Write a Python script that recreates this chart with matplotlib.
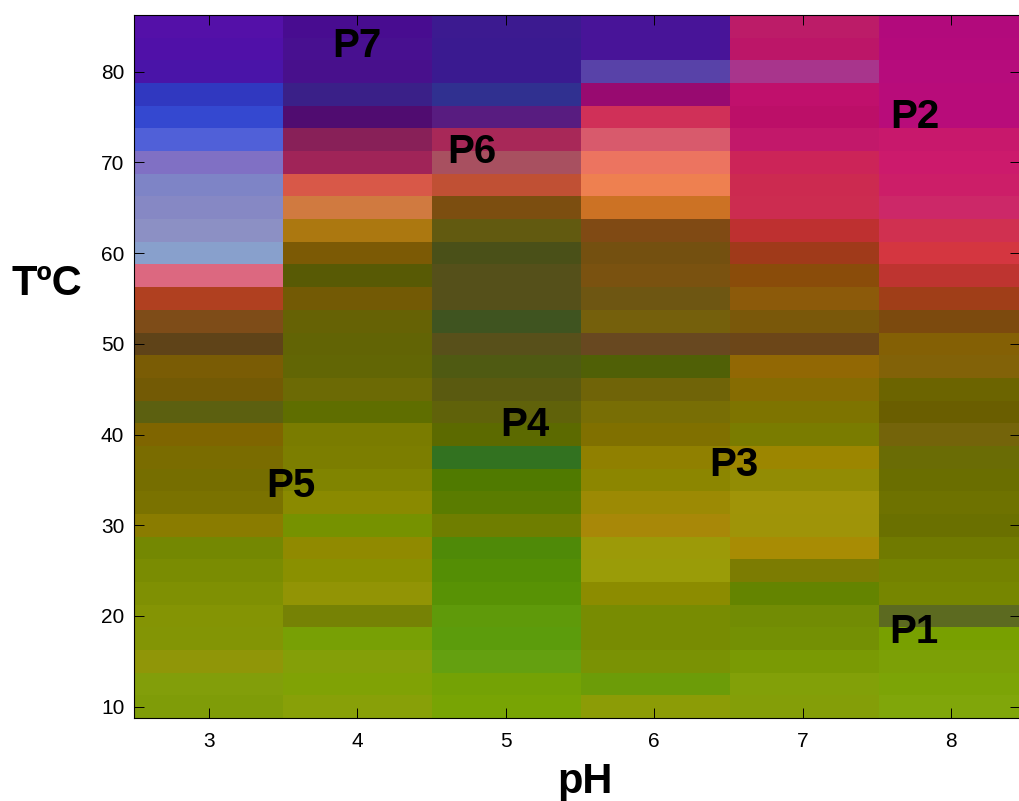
import numpy as np
import matplotlib
matplotlib.use('Agg')
import matplotlib.pyplot as plt
from matplotlib.colors import to_rgb

plt.rcParams['font.family'] = ['Liberation Sans', 'DejaVu Sans']

ph_values = [3, 4, 5, 6, 7, 8]
temps = [10, 12.5, 15, 17.5, 20, 22.5, 25, 27.5, 30, 32.5, 35, 37.5, 40, 42.5, 45, 47.5,
         50, 52.5, 55, 57.5, 60, 62.5, 65, 67.5, 70, 72.5, 75, 77.5, 80, 82.5, 85]

# colour of each cell, from T=10 up to T=85
ph3 = ['#7f9c08', '#829e0a', '#909608', '#839505', '#849404', '#7f9003', '#7a8c02', '#748802',
       '#8a7c00', '#7a7200', '#766e00', '#7a6c00', '#7f6500', '#5c6010', '#735a05', '#7a5c05',
       '#5f4318', '#7e4c18', '#b04020', '#dc6880', '#88a0cc', '#8c90c4', '#8688c4', '#7e84c6',
       '#8070c4', '#5060d8', '#3448d0', '#3038c0', '#4a14a8', '#5010a8', '#5410a8']
ph4 = ['#88a008', '#80a205', '#849f08', '#78a005', '#768205', '#929405', '#8a9000', '#908a00',
       '#769200', '#8a8a00', '#808400', '#7c7e00', '#7a7c00', '#5f6e00', '#6c6a05', '#626605',
       '#626405', '#666205', '#735a05', '#585a05', '#7c5a05', '#ac7810', '#d07a40', '#d85848',
       '#a02458', '#882058', '#500c70', '#3a2088', '#48108c', '#481090', '#480c90']
ph5 = ['#78a404', '#74a205', '#64a010', '#5c9c0c', '#5f9a0a', '#589205', '#548e05', '#4f8a08',
       '#6f7e00', '#5a7c00', '#507a00', '#327220', '#5c6a00', '#60620a', '#5a5a10', '#4f5a12',
       '#58501a', '#3f5420', '#55501a', '#55501a', '#4a5018', '#625a10', '#7c4e10', '#c05034',
       '#a85060', '#a82858', '#581c80', '#303090', '#3a1a90', '#3a1a90', '#3c1a90']
ph6 = ['#8c9c06', '#6c9c08', '#7a9204', '#788c02', '#788c02', '#8c8c00', '#9a9c08', '#9c9a08',
       '#a88808', '#9c8a04', '#8c8600', '#908000', '#807000', '#786e05', '#706408', '#506006',
       '#684820', '#75600c', '#6e5612', '#7a5210', '#745010', '#804a14', '#cc7224', '#ee8050',
       '#ec7460', '#d85a6c', '#d03058', '#980a70', '#5842a8', '#481498', '#481498']
ph7 = ['#849e08', '#82a008', '#7a9a04', '#749004', '#728c04', '#648400', '#7c7c02', '#a88c04',
       '#9f9408', '#a09408', '#928c04', '#9c8600', '#7a7c00', '#7e7400', '#866c02', '#926804',
       '#6c4618', '#7a580a', '#8c5a0a', '#8a4c0a', '#a03a1a', '#be3030', '#cc2c50', '#cc2a50',
       '#cc2458', '#c2186a', '#bc0f68', '#c0106c', '#a8358c', '#bc1668', '#bc1c68']
ph8 = ['#80a60a', '#7ca406', '#7ca006', '#78a000', '#5c6a20', '#768600', '#748200', '#707a00',
       '#6a7000', '#6e7200', '#6a6e00', '#6a6c05', '#74640a', '#6a5e00', '#6c6400', '#826208',
       '#846005', '#7c4a0e', '#a03e18', '#be3430', '#d43640', '#d03050', '#cc2868', '#cc1e68',
       '#cc1a6c', '#c8186c', '#b80c7a', '#b80c7a', '#b60c7c', '#b40a7c', '#b20a7c']

peak_names = ['P1', 'P2', 'P3', 'P4', 'P5', 'P6', 'P7']
peak_ph = [7.75, 7.76, 6.54, 5.13, 3.55, 4.77, 4.0]
peak_temp = [18.2, 75.0, 36.6, 41.1, 34.3, 71.1, 82.8]

columns = [ph3, ph4, ph5, ph6, ph7, ph8]
img = np.array([[to_rgb(c) for c in col] for col in columns]).transpose(1, 0, 2)

fig = plt.figure(figsize=(10.2, 8.01), dpi=100)
ax = fig.add_axes([134 / 1020, 1 - 718 / 801, 886 / 1020, 703 / 801])

# the image cells are a touch wider than the tick spacing in the original
ax.imshow(img, origin='lower', aspect='auto', interpolation='nearest',
          extent=[2.495, 8.519, temps[0] - 1.25, temps[-1] + 1.25])
ax.set_xlim(2.495, 8.465)

ax.set_xticks(ph_values)
ax.set_yticks(range(10, 90, 10))
ax.tick_params(direction='in', length=7, width=0.7, top=True, right=True,
               labelsize=15, pad=10)
ax.tick_params(axis='y', pad=7)

ax.set_xlabel('pH', fontsize=30, fontweight='bold')
ax.xaxis.set_label_coords((585 - 134) / 886, -0.063)
fig.text(47 / 1020, 1 - 284 / 801, 'TºC', fontsize=30, fontweight='bold',
         ha='center', va='center')

for name, x, y in zip(peak_names, peak_ph, peak_temp):
    ax.text(x, y, name, fontsize=29, fontweight='bold', ha='center', va='center')

plt.savefig('out.png', dpi=100)
plt.close()
